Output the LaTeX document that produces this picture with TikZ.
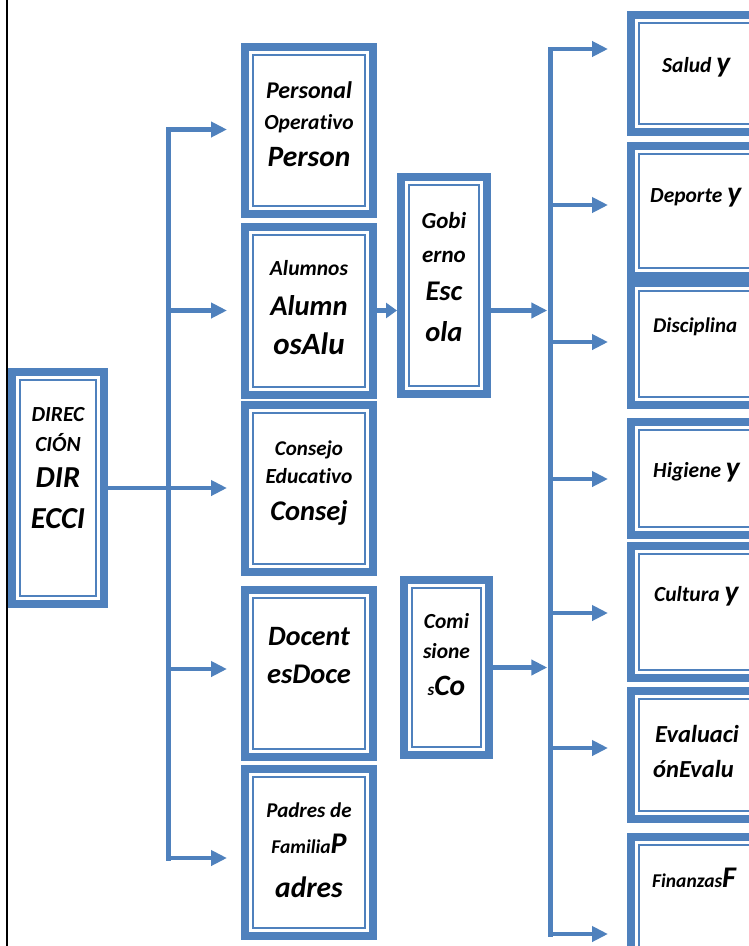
\documentclass[tikz,border=0pt]{standalone}
\usepackage{fontspec}
\setmainfont{Carlito}[Ligatures=CommonOff]
\usetikzlibrary{arrows.meta}
\definecolor{bl}{HTML}{4F81BD}
\newcommand\fs[1]{\fontsize{#1}{#1}\selectfont}
\newcommand\smf{\fs{21.5}}
\newcommand\bgf{\fs{29.5}}
\newcommand\mkbox[5]{%
  \node[obox, minimum width={#4-#2-8}, minimum height={#5-#3-8}] (#1) at ({(#2+#4)/2},{(#3+#5)/2}) {};
  \draw[ibox] ([shift={(12pt,-12pt)}]#1.north west) rectangle ([shift={(-12pt,12pt)}]#1.south east);}
\begin{document}
\begin{tikzpicture}[x=1pt,y=-1pt,
  obox/.style={draw=bl, line width=8pt, inner sep=0pt, outer sep=4pt, fill=white},
  ibox/.style={draw=bl, line width=2.2pt},
  bus/.style={draw=bl, line width=5pt, line cap=rect},
  arr/.style={draw=bl, line width=4.5pt, -{Triangle[length=16pt,width=15pt]}},
  arrs/.style={draw=bl, line width=4.5pt, -{Triangle[length=11pt,width=15pt]}},
  txt/.style={inner sep=0pt, anchor=base, font=\bfseries\itshape\smf},
  txb/.style={txt, font=\bfseries\itshape\bgf},
  txl/.style={txt, anchor=base west}]
\useasboundingbox (0,0) rectangle (749,946);
\clip (0,0) rectangle (749,946);
\draw[black, line width=2pt] (6.7,-5) coordinate (fr1) -- (6.7,960) coordinate (fr2);
% boxes
\mkbox{dir}{8}{368}{108}{608}
\mkbox{per}{241}{43}{377}{218}
\mkbox{alu}{241}{223}{377}{399}
\mkbox{con}{241}{401}{377}{576}
\mkbox{doc}{241}{586}{377}{761}
\mkbox{pad}{241}{765}{377}{940}
\mkbox{gob}{397}{173}{491}{398}
\mkbox{com}{400}{576}{493}{759}
\mkbox{sal}{627}{11}{880}{136}
\mkbox{dep}{627}{142}{880}{280}
\mkbox{dis}{627}{279}{880}{409}
\mkbox{hig}{627}{418}{880}{539}
\mkbox{cul}{627}{542}{880}{682}
\mkbox{eva}{627}{687}{880}{823}
\mkbox{fin}{627}{833}{880}{980}
% left bus
\coordinate (l1) at (168,129.5);
\coordinate (l2) at (168,310.5);
\coordinate (l4) at (168,669);
\coordinate (l5) at (168,858);
\draw[bus] (l1) -- (l5);
\draw[arr, shorten >=14pt] (l1) -- (l1 -| per.west);
\draw[arr, shorten >=14pt] (l2) -- (l2 -| alu.west);
\draw[arr, shorten >=14pt] (dir.east) -- (dir.east -| con.west);
\draw[arr, shorten >=14pt] (l4) -- (l4 -| doc.west);
\draw[arr, shorten >=14pt] (l5) -- (l5 -| pad.west);
% right bus
\coordinate (r1) at (550,49);
\coordinate (r2) at (550,205);
\coordinate (r3) at (550,342);
\coordinate (r4) at (550,479);
\coordinate (r5) at (550,613);
\coordinate (r6) at (550,748);
\coordinate (r7) at (550,934);
\draw[bus] (r1) -- (r7);
\draw[arrs] (l2 -| alu.east) -- (l2 -| gob.west);
\draw[arr, shorten >=2.7pt] (l2 -| gob.east) -- (l2 -| r1);
\draw[arr, shorten >=2.7pt] (com.east) -- (com.east -| r1);
\draw[arr, shorten >=19pt] (r1) -- (r1 -| sal.west);
\draw[arr, shorten >=19pt] (r2) -- (r2 -| dep.west);
\draw[arr, shorten >=19pt] (r3) -- (r3 -| dis.west);
\draw[arr, shorten >=19pt] (r4) -- (r4 -| hig.west);
\draw[arr, shorten >=19pt] (r5) -- (r5 -| cul.west);
\draw[arr, shorten >=19pt] (r6) -- (r6 -| eva.west);
\draw[arr, shorten >=19pt] (r7) -- (r7 -| fin.west);
% texts
\node[txt] (d1) at (58,421) {DIREC};
\node[txt] (d2) at (58,451) {CIÓN};
\node[txb, font=\bfseries\itshape\fs{30.5}] (d3) at (58,487) {DIR};
\node[txb, font=\bfseries\itshape\fs{30.5}] (d4) at (58,528) {ECCI};
\node[txt, font=\bfseries\itshape\fs{24}] (p1) at (309,98) {Personal};
\node[txt] (p2) at (309,129) {Operativo};
\node[txb] (p3) at (309,166) {Person};
\node[txt] (a1) at (309,275) {Alumnos};
\node[txb, font=\bfseries\itshape\fs{28.5}] (a2) at (309,315) {Alumn};
\node[txb, font=\bfseries\itshape\fs{31}] (a3) at (309,354) {osAlu};
\node[txt, font=\bfseries\itshape\fs{21}] (c1) at (309,455) {Consejo};
\node[txt] (c2) at (309,483) {Educativo};
\node[txb, font=\bfseries\itshape\fs{28.5}] (c3) at (309,520) {Consej};
\node[txb, font=\bfseries\itshape\fs{28}] (o1) at (309,645) {Docent};
\node[txb, font=\bfseries\itshape\fs{28.5}] (o2) at (309,683) {esDoce};
\node[txt, font=\bfseries\itshape\fs{21}] (f1) at (309,817) {Padres de};
\node[txt] (f2) at (309,853) {{\fs{19.5}Familia}{\fs{30}P}};
\node[txb] (f3) at (309,897) {adres};
\node[txt, font=\bfseries\itshape\fs{23}] (g1) at (444,228) {Gobi};
\node[txt, font=\bfseries\itshape\fs{23}] (g2) at (444,262) {erno};
\node[txb, font=\bfseries\itshape\fs{28.5}] (g3) at (444,300) {Esc};
\node[txb, font=\bfseries\itshape\fs{28.5}] (g4) at (444,341) {ola};
\node[txt] (m1) at (446.5,628) {Comi};
\node[txt] (m2) at (446.5,658) {sione};
\node[txt] (m3) at (446.5,695) {{\fs{17}s}{\bgf Co}};
\node[txl] (s1) at (662,72) {Salud {\bgf y}};
\node[txl] (s2) at (650,202) {Deporte {\bgf y}};
\node[txl, font=\bfseries\itshape\fs{21}] (s3) at (653,332) {Disciplina};
\node[txl] (s4) at (653,477) {Higiene {\bgf y}};
\node[txl] (s5) at (654,601) {Cultura {\bgf y}};
\node[txl, font=\bfseries\itshape\fs{24.5}] (s6) at (655,742) {Evaluaci};
\node[txl, font=\bfseries\itshape\fs{24.5}] (s7) at (653,777) {ónEvalu};
\node[txl] (s8) at (652,887) {{\fs{19.5}Finanzas}{\fs{30}F}};
\end{tikzpicture}
\end{document}
